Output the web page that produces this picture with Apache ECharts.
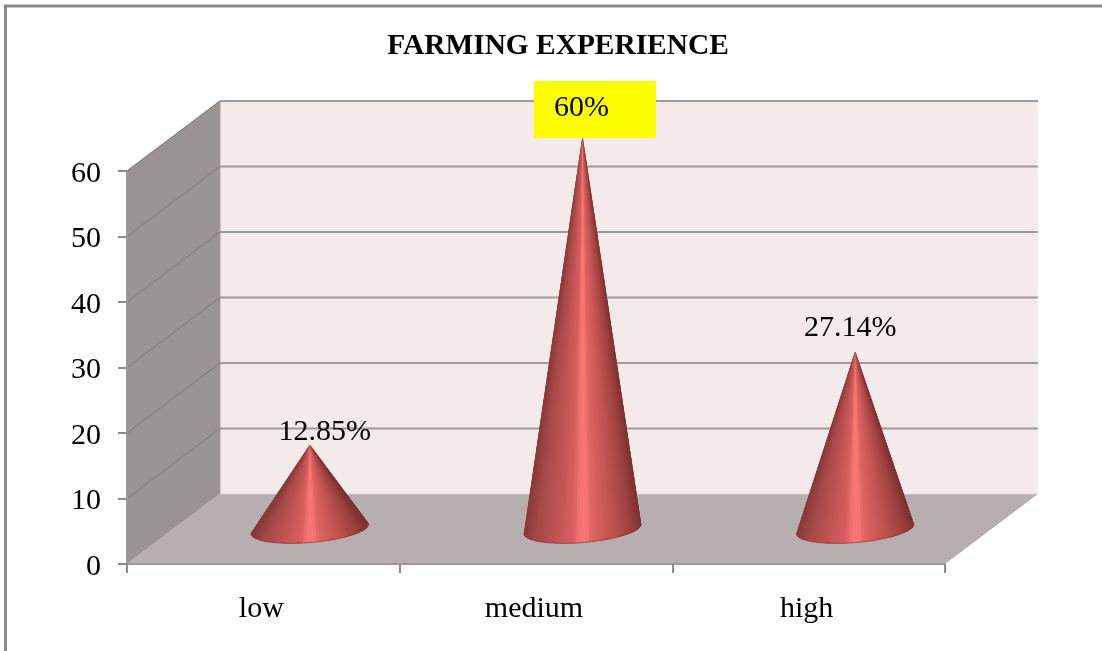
<!DOCTYPE html>
<html>
<head>
<meta charset="utf-8">
<style>
  html, body { margin: 0; padding: 0; background: #fff; }
  #chart { width: 1102px; height: 651px; }
</style>
<script src="https://cdn.jsdelivr.net/npm/echarts@6/dist/echarts.min.js"></script>
</head>
<body>
<div id="chart"></div>
<script>
// Farming experience shares, drawn as cones in a pseudo-3D box.
const categories = ['low', 'medium', 'high'];
const shares = [12.85, 60, 27.14];
const valueTicks = [0, 10, 20, 30, 40, 50, 60];
const boxedLabel = [false, true, false];

// Offset of each share label's centre from the cone tip.
const labelOffsets = [[15, -13], [-1, -28], [-5, -23]];

// Oblique projection of the box and the cone base.
const DEPTH_X = 93;
const DEPTH_Y = 70;
const BASE_RX = 55.5;
const BASE_DEPTH = 0.205;
const SERIF = '"Liberation Serif", "Times New Roman", serif';

// Surface colour across the visible width of a cone, 0 = left edge, 1 = right edge.
const shadeStops = [
  [0.00, [134, 58, 56]], [0.10, [165, 72, 70]], [0.30, [196, 86, 84]],
  [0.42, [214, 96, 94]], [0.47, [244, 116, 114]], [0.53, [250, 120, 118]],
  [0.58, [222, 100, 98]], [0.72, [200, 86, 84]], [0.90, [160, 66, 64]],
  [1.00, [124, 50, 48]]
];

function shade(s) {
  for (let i = 1; i < shadeStops.length; i++) {
    const [b, cb] = shadeStops[i];
    if (s <= b) {
      const [a, ca] = shadeStops[i - 1];
      const k = (s - a) / (b - a);
      const c = ca.map((v, j) => Math.round(v + (cb[j] - v) * k));
      return 'rgb(' + c.join(',') + ')';
    }
  }
  return 'rgb(124,50,48)';
}

// Left and right ends of the front plane at a given value, in pixels.
function frontEdge(api, v) {
  const half = api.size([1, 0])[0] / 2;
  const first = api.coord([0, v]);
  const last = api.coord([categories.length - 1, v]);
  return [[first[0] - half, first[1]], [last[0] + half, last[1]]];
}

function renderBox(params, api) {
  const [tl] = frontEdge(api, 60);
  const [bl, br] = frontEdge(api, 0);
  const back = p => [p[0] + DEPTH_X, p[1] - DEPTH_Y];
  const poly = (pts, fill) => ({
    type: 'polygon', shape: { points: pts }, silent: true, style: { fill: fill }
  });
  const edge = (a, b, stroke) => ({
    type: 'line', silent: true,
    shape: { x1: a[0], y1: a[1], x2: b[0], y2: b[1] },
    style: { stroke: stroke, lineWidth: 1 }
  });
  return {
    type: 'group',
    children: [
      poly([back(tl), [back(br)[0], back(tl)[1]], back(br), back(bl)], '#f5eaea'),
      poly([tl, back(tl), back(bl), bl], '#9a9492'),
      poly([bl, back(bl), back(br), br], '#b7afaf'),
      edge(back(tl), back(bl), '#a5a0a0'),
      edge(back(bl), back(br), 'rgba(225,218,218,0.7)')
    ]
  };
}

function renderGridLine(params, api) {
  const v = api.value(1);
  if (v === 0) return null;
  const [a, b] = frontEdge(api, v);
  const ax = a[0] + DEPTH_X, y = a[1] - DEPTH_Y;
  return {
    type: 'group',
    children: [
      { type: 'line', silent: true, shape: { x1: a[0], y1: a[1], x2: ax, y2: y },
        style: { stroke: '#87837f', lineWidth: 1.2 } },
      { type: 'line', silent: true, shape: { x1: ax, y1: y, x2: b[0] + DEPTH_X, y2: y },
        style: { stroke: '#9c9a9a', lineWidth: 2 } }
    ]
  };
}

function renderCone(params, api) {
  const i = api.value(0);
  const v = api.value(1);
  const foot = api.coord([i, 0]);
  const top = api.coord([i, v]);
  const cx = foot[0] + DEPTH_X / 2;
  const cy = foot[1] - DEPTH_Y / 2;
  const tip = [top[0] + DEPTH_X / 2, top[1] - DEPTH_Y / 2];

  // Base circle on the floor: P(t) = C + cos t * A + sin t * B.
  const ax = BASE_RX;
  const bx = DEPTH_X * BASE_DEPTH, by = -DEPTH_Y * BASE_DEPTH;
  const point = t => [cx + Math.cos(t) * ax + Math.sin(t) * bx, cy + Math.sin(t) * by];

  // Tangent lines from the tip bound the visible part of the base.
  const dy = tip[1] - cy, dx = tip[0] - cx;
  const vv = dy / by;
  const uu = (dx - vv * bx) / ax;
  const r = Math.hypot(uu, vv);
  const phi = Math.atan2(vv, uu);
  const spread = Math.acos(1 / r);
  const t0 = phi + spread;
  const t1 = phi - spread + Math.PI * 2;

  const N = 60;
  const rim = [];
  for (let k = 0; k <= N; k++) rim.push(point(t0 + (t1 - t0) * k / N));
  const xMin = Math.min(rim[0][0], rim[N][0]);
  const xMax = Math.max(rim[0][0], rim[N][0]);

  // Facets are painted in order, each one running under the next so no seams show.
  const children = [];
  for (let k = 0; k < N; k++) {
    const s = Math.min(1, Math.max(0, ((rim[k][0] + rim[k + 1][0]) / 2 - xMin) / (xMax - xMin)));
    children.push({
      type: 'polygon', silent: true,
      shape: { points: [tip].concat(rim.slice(k, Math.min(N, k + 3) + 1)) },
      style: { fill: shade(s) }
    });
  }
  children.push({
    type: 'polyline', silent: true, shape: { points: rim },
    style: { fill: 'none', stroke: 'rgba(150,50,50,0.7)', lineWidth: 1 }
  });

  if (boxedLabel[i]) {
    children.push({
      type: 'rect', silent: true,
      shape: { x: tip[0] - 48.5, y: tip[1] - 55, width: 122, height: 57 },
      style: { fill: '#ffff00' }
    });
  }
  const off = labelOffsets[i];
  children.push({
    type: 'text', silent: true,
    style: {
      x: tip[0] + off[0], y: tip[1] + off[1],
      text: v + '%', fill: '#000',
      font: '30px ' + SERIF, align: 'center', verticalAlign: 'middle'
    }
  });
  return { type: 'group', children: children };
}

const chart = echarts.init(document.getElementById('chart'), null, { renderer: 'canvas' });

chart.setOption({
  animation: false,
  backgroundColor: '#ffffff',
  title: {
    text: 'FARMING EXPERIENCE',
    left: 553, top: 27, textAlign: 'center',
    textStyle: { fontFamily: SERIF, fontWeight: 'bold', fontSize: 29.4, color: '#000' }
  },
  graphic: [{
    type: 'polyline', silent: true, z: 0,
    shape: { points: [[5.5, 651], [5.5, 6], [1102, 6]] },
    style: { fill: 'none', stroke: '#8a8a8a', lineWidth: 3 }
  }],
  grid: { left: 127, top: 171, width: 818, height: 393, containLabel: false },
  xAxis: {
    type: 'category',
    data: categories,
    z: 5,
    axisLine: { show: true, onZero: false, lineStyle: { color: '#999999', width: 2 } },
    axisTick: { show: true, length: 9, lineStyle: { color: '#8c8c8c', width: 2 } },
    axisLabel: {
      fontFamily: SERIF, fontSize: 30, color: '#000', margin: 30,
      padding: [0, 4, 0, 0]
    }
  },
  yAxis: {
    type: 'value', min: 0, max: 60, interval: 10,
    z: 5,
    splitLine: { show: false },
    axisLine: { show: true, lineStyle: { color: '#999999', width: 2 } },
    axisTick: { show: true, length: 9, lineStyle: { color: '#8c8c8c', width: 2 } },
    axisLabel: {
      margin: 26,
      formatter: '{tick|{value}}',
      rich: {
        tick: { fontFamily: SERIF, fontSize: 30, color: '#000', padding: [6, 0, 0, 0] }
      }
    }
  },
  series: [
    {
      type: 'custom', name: 'box', z: 1, silent: true, clip: false,
      coordinateSystem: 'cartesian2d',
      data: [[0, 0]],
      encode: { x: 0, y: 1 },
      renderItem: renderBox
    },
    {
      type: 'custom', name: 'gridlines', z: 2, silent: true, clip: false,
      coordinateSystem: 'cartesian2d',
      data: valueTicks.map(v => [0, v]),
      encode: { x: 0, y: 1 },
      renderItem: renderGridLine
    },
    {
      type: 'custom', name: 'share', z: 6, silent: true, clip: false,
      coordinateSystem: 'cartesian2d',
      data: shares.map((v, i) => [i, v]),
      encode: { x: 0, y: 1 },
      renderItem: renderCone
    }
  ]
});
</script>
</body>
</html>
